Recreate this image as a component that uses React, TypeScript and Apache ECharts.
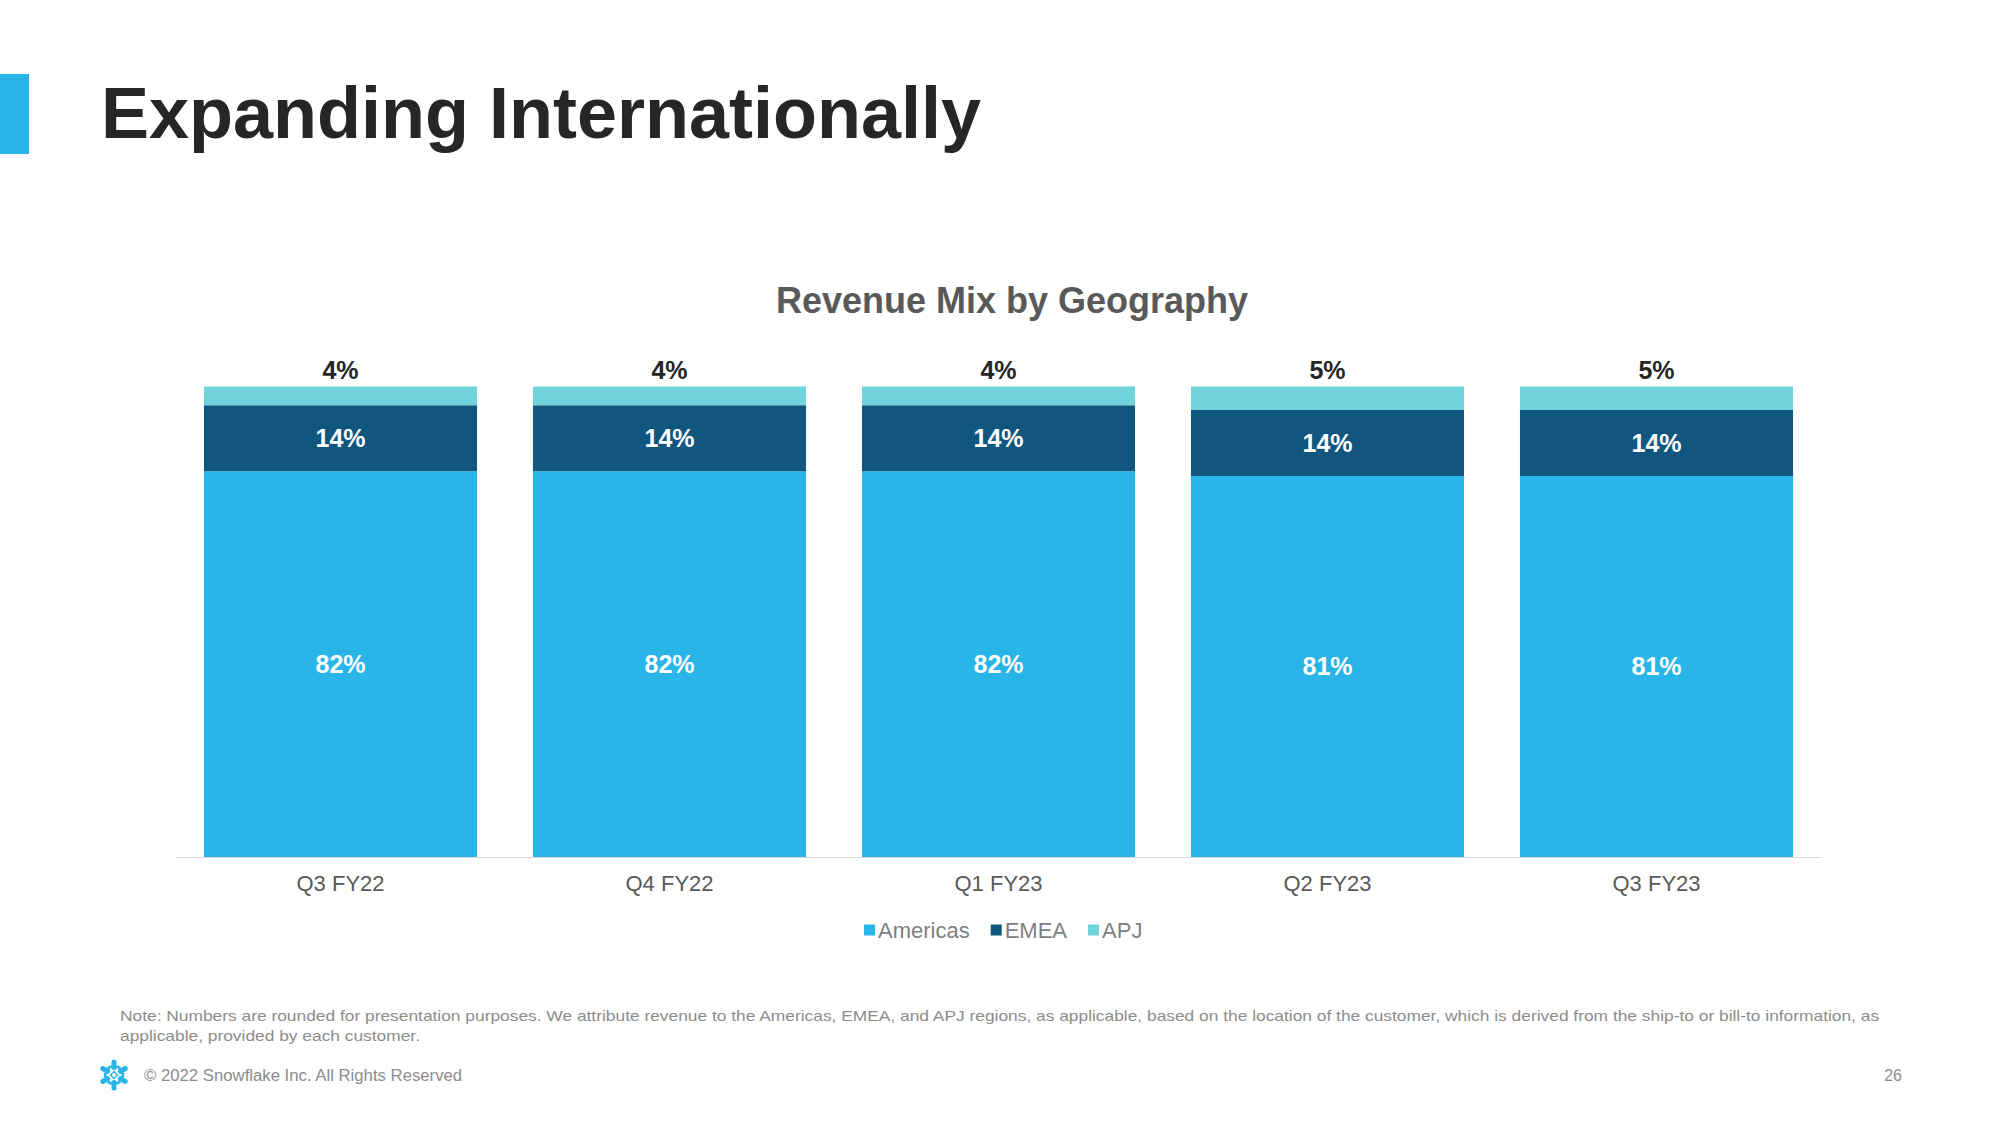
import React, { useEffect, useRef } from "react";
import * as echarts from "echarts";

const categories = ["Q3 FY22", "Q4 FY22", "Q1 FY23", "Q2 FY23", "Q3 FY23"];
const americas = [82, 82, 82, 81, 81];
const emea = [14, 14, 14, 14, 14];
const apj = [4, 4, 4, 5, 5];
const seriesNames = ["Americas", "EMEA", "APJ"];
const seriesColors = ["#29B5E8", "#11567F", "#71D3DC"];

const pageTitle = "Expanding Internationally";
const chartTitle = "Revenue Mix by Geography";
const noteLines = [
  "Note: Numbers are rounded for presentation purposes. We attribute revenue to the Americas, EMEA, and APJ regions, as applicable, based on the location of the customer, which is derived from the ship-to or bill-to information, as",
  "applicable, provided by each customer.",
];
const footerText = "© 2022 Snowflake Inc. All Rights Reserved";
const pageNumber = "26";

const FONT = "'Liberation Sans', Arial, sans-serif";

function snowflakeLogo(cx: number, cy: number) {
  const children: any[] = [];
  const angles = [30, 90, 150, 210, 270, 330];
  const blue = "#29B5E8";
  angles.forEach((a) => {
    const r = (a * Math.PI) / 180;
    const c = Math.cos(r);
    const s = Math.sin(r);
    children.push({
      type: "line",
      shape: { x1: cx + c * 7.5, y1: cy + s * 7.5, x2: cx + c * 13, y2: cy + s * 13 },
      style: { stroke: blue, lineWidth: 5, lineCap: "round" },
    });
    const r1 = ((a - 28) * Math.PI) / 180;
    const r2 = ((a + 28) * Math.PI) / 180;
    children.push({
      type: "polyline",
      shape: {
        points: [
          [cx + Math.cos(r1) * 10, cy + Math.sin(r1) * 10],
          [cx + c * 6.5, cy + s * 6.5],
          [cx + Math.cos(r2) * 10, cy + Math.sin(r2) * 10],
        ],
      },
      style: { stroke: blue, lineWidth: 2.5, fill: null, lineJoin: "round" },
    });
  });
  children.push({
    type: "polygon",
    shape: { points: [[cx, cy - 3.5], [cx + 3.5, cy], [cx, cy + 3.5], [cx - 3.5, cy]] },
    style: { fill: null, stroke: blue, lineWidth: 1.5 },
  });
  return { type: "group", children };
}

export default function App() {
  const ref = useRef<HTMLDivElement>(null);

  useEffect(() => {
    if (!ref.current) return;
    const chart = echarts.init(ref.current, null, { renderer: "svg" });
    const dataSets = [americas, emea, apj];
    const option: any = {
      animation: false,
      backgroundColor: "#ffffff",
      textStyle: { fontFamily: FONT },
      grid: { left: 176, right: 179, top: 386.5, bottom: 268, containLabel: false },
      legend: {
        data: seriesNames,
        left: 859,
        top: 914,
        icon: "rect",
        itemWidth: 11,
        itemHeight: 11,
        itemGap: 21,
        textStyle: { fontFamily: FONT, fontSize: 22, color: "#7f7f7f", padding: [0, 0, 0, -2] },
      },
      xAxis: {
        type: "category",
        data: categories,
        axisLine: { show: true, lineStyle: { color: "#d9d9d9", width: 1 } },
        axisTick: { show: false },
        axisLabel: { fontFamily: FONT, fontSize: 22, color: "#595959", margin: 15 },
      },
      yAxis: {
        type: "value",
        min: 0,
        max: 100,
        show: false,
        splitLine: { show: false },
      },
      series: seriesNames.map((name, i) => ({
        name,
        type: "bar",
        stack: "total",
        barCategoryGap: "17%",
        data: dataSets[i],
        itemStyle: { color: seriesColors[i] },
        label: {
          show: true,
          position: i === 2 ? "top" : "inside",
          distance: 4,
          formatter: "{c}%",
          fontFamily: FONT,
          fontSize: 25,
          fontWeight: "bold",
          color: i === 2 ? "#262626" : "#ffffff",
        },
      })),
      graphic: [
        { type: "rect", shape: { x: 0, y: 74, width: 29, height: 80 }, style: { fill: "#29B5E8" } },
        {
          type: "text",
          x: 101,
          y: 113,
          style: {
            text: pageTitle,
            font: `bold 72px ${FONT}`,
            fill: "#262626",
            textVerticalAlign: "middle",
          },
        },
        {
          type: "text",
          x: 1012,
          y: 300,
          style: {
            text: chartTitle,
            font: `bold 36px ${FONT}`,
            fill: "#595959",
            textAlign: "center",
            textVerticalAlign: "middle",
          },
        },
        ...noteLines.map((t, i) => ({
          type: "text",
          x: 120,
          y: 1015 + i * 20,
          scaleX: 1.157,
          style: { text: t, font: `15px ${FONT}`, fill: "#8c8c8c", textVerticalAlign: "middle" },
        })),
        snowflakeLogo(114, 1075),
        {
          type: "text",
          x: 144,
          y: 1075,
          scaleX: 1.046,
          style: { text: footerText, font: `16px ${FONT}`, fill: "#8c8c8c", textVerticalAlign: "middle" },
        },
        {
          type: "text",
          x: 1902,
          y: 1075,
          style: {
            text: pageNumber,
            font: `16px ${FONT}`,
            fill: "#8c8c8c",
            textAlign: "right",
            textVerticalAlign: "middle",
          },
        },
      ],
    };
    chart.setOption(option);
    return () => chart.dispose();
  }, []);

  return (
    <div
      ref={ref}
      style={{ position: "fixed", left: 0, top: 0, width: 2000, height: 1125, background: "#fff" }}
    />
  );
}
